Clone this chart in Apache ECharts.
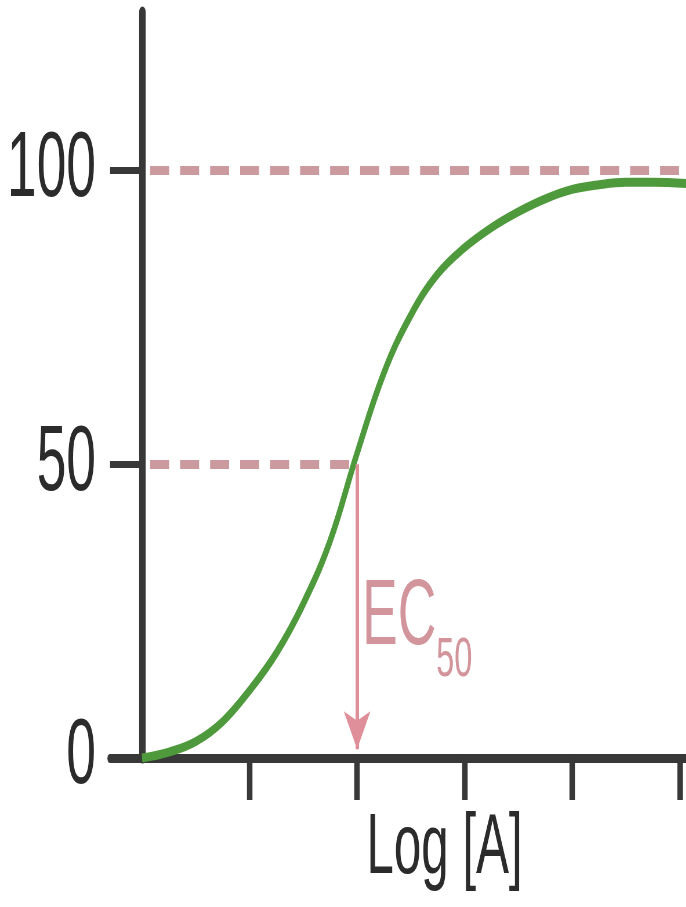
<!DOCTYPE html>
<html>
<head>
<meta charset="utf-8">
<script src="https://cdn.jsdelivr.net/npm/echarts@6/dist/echarts.min.js"></script>
<style>
html,body{margin:0;padding:0;background:#fff;overflow:hidden;width:686px;height:907px;}
#chart{height:907px;transform-origin:0 0;}
</style>
</head>
<body>
<div id="chart"></div>
<script>
// Data
const logA =     [0, 0.25, 0.5, 0.75, 1.0, 1.25, 1.5, 1.75, 2.0, 2.25, 2.5, 2.75, 3.0, 3.25, 3.5, 3.75, 4.0, 4.25, 4.5, 4.75, 5.06];
const response = [0, 1.0, 2.8, 6.2, 11.5, 17.9, 26.3, 37.0, 51.9, 65.6, 75.4, 82.4, 86.9, 90.3, 93.0, 95.2, 96.8, 97.6, 98.0, 98.0, 97.8];
const yTicks = [0, 50, 100];
const xTicks = [1, 2, 3, 4, 5];
const ec50 = 2;
const halfLevel = 50;
const maxLevel = 100;
const xAxisTitle = 'Log [A]';
const ecMain = 'EC';
const ecSub = '50';

// the reference is a horizontally compressed figure: draw wide, then squeeze
const S = 0.58;
const W = 686 / S;
const px = v => v / S;   // horizontal reference pixels -> chart pixels

const el = document.getElementById('chart');
el.style.width = W + 'px';
el.style.transform = 'scaleX(' + S + ')';

const FONT = "'Liberation Sans', Arial, Helvetica, sans-serif";
const AXIS = '#383838';
const TEXT = '#2b2b2b';
const PINK_TEXT = '#d3959c';
const chart = echarts.init(el);
const dashStyle = {color: '#cb9a9f', width: 9, type: [px(19), px(11)], cap: 'butt'};

chart.setOption({
  animation: false,
  grid: {left: px(110), right: 0, top: 12, bottom: 907 - 758, containLabel: false, outerBoundsMode: 'none'},
  xAxis: {
    type: 'value', min: -0.298, max: 5.06,
    axisLine: {show: true, onZero: true, lineStyle: {color: AXIS, width: 9}},
    axisTick: {show: true, inside: false, length: 42, customValues: xTicks, lineStyle: {color: AXIS, width: px(5.5)}},
    axisLabel: {show: false},
    splitLine: {show: false},
    name: xAxisTitle, nameLocation: 'middle', nameGap: 49,
    nameTextStyle: {fontFamily: FONT, fontSize: 85, color: TEXT, padding: [0, 0, 0, px(93)], verticalAlign: 'top'}
  },
  yAxis: {
    type: 'value', min: 0, max: 127,
    axisLine: {show: true, onZero: true, lineStyle: {color: AXIS, width: px(6.5)}},
    axisTick: {show: true, length: px(32), customValues: yTicks, lineStyle: {color: AXIS, width: 7}},
    axisLabel: {show: true, customValues: yTicks, margin: px(14), fontFamily: FONT, fontSize: 92, color: TEXT},
    splitLine: {show: false}
  },
  series: [
    {
      type: 'line',
      data: logA.map((x, i) => [x, response[i]]),
      smooth: 0.4,
      showSymbol: false,
      lineStyle: {color: '#4d993b', width: 9},
      z: 3,
      markLine: {
        silent: true, symbol: 'none', z: 2,
        label: {show: false},
        lineStyle: dashStyle,
        data: [
          [{coord: [0.075, maxLevel], lineStyle: dashStyle}, {coord: [5.06, maxLevel]}],
          [{coord: [0.075, halfLevel], lineStyle: dashStyle}, {coord: [ec50, halfLevel]}]
        ]
      }
    },
    {
      type: 'line',
      data: [],
      markLine: {
        silent: true,
        symbol: ['none', 'arrow'],
        symbolSize: [px(20), 38],
        label: {show: false},
        lineStyle: {color: '#df8f99', width: px(3.5), type: 'solid'},
        data: [[{coord: [ec50, halfLevel]}, {coord: [ec50, 1.5]}]]
      },
      markPoint: {
        silent: true,
        symbol: 'circle', symbolSize: 0,
        data: [{coord: [ec50, halfLevel]}],
        label: {
          show: true, position: [px(5), 108],
          formatter: '{a|' + ecMain + '}{b|' + ecSub + '}',
          rich: {
            a: {fontFamily: FONT, fontSize: 92, lineHeight: 92, color: PINK_TEXT, verticalAlign: 'top'},
            b: {fontFamily: FONT, fontSize: 56, lineHeight: 56, color: PINK_TEXT, verticalAlign: 'top', padding: [60, 0, 0, 0]}
          }
        }
      }
    }
  ]
});
</script>
</body>
</html>
